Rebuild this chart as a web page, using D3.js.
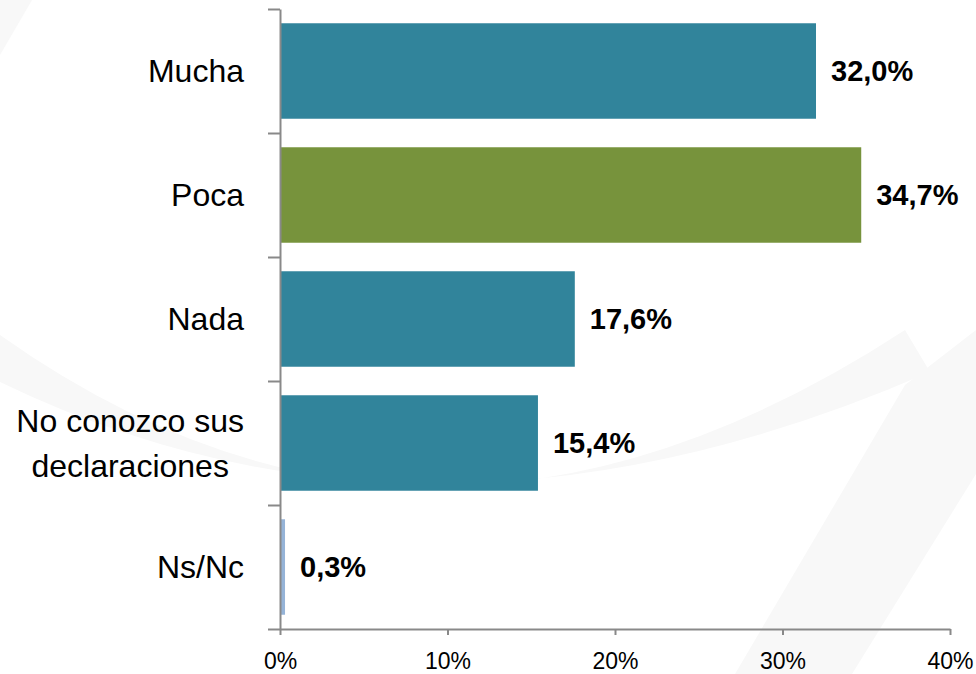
<!DOCTYPE html>
<html>
<head>
<meta charset="utf-8">
<script src="https://cdn.jsdelivr.net/npm/d3@7"></script>
<style>
    body { margin: 0; background: #fff; }
    text { font-family: "Liberation Sans", Arial, sans-serif; }
</style>
</head>
<body>
<div id="chart"></div>
<script>
(function () {
    // data
    var categories = ["Mucha", "Poca", "Nada", "No conozco sus|declaraciones", "Ns/Nc"];
    var values = [32.0, 34.7, 17.6, 15.4, 0.3];
    var valueLabels = ["32,0%", "34,7%", "17,6%", "15,4%", "0,3%"];
    var barColors = ["#31849b", "#77933c", "#31849b", "#31849b", "#95b3d7"];
    var xTicks = [0, 10, 20, 30, 40];

    const width = 976;
    const height = 674;
    const plot_left = 280;
    const plot_right = 950;
    const plot_top = 9;
    const plot_bottom = 629;
    const axis_color = "#898989";

    var svg = d3.select('#chart').append('svg')
        .attr('width', width)
        .attr('height', height);

    // faint watermark swooshes in the background
    var wm = svg.append('g').attr('fill', '#f8f8f8');
    wm.append('path')
        .attr('d', 'M0,335 Q430,640 905,330 L930,372 Q430,590 0,382 Z');
    wm.append('path')
        .attr('d', 'M905,385 L976,330 L976,474 L852,674 L735,674 Z');
    wm.append('path')
        .attr('d', 'M0,0 L32,0 L0,55 Z');

    var x = d3.scaleLinear()
        .domain([0, 40])
        .range([plot_left, plot_right]);

    var y = d3.scaleBand()
        .domain(categories)
        .range([plot_top, plot_bottom])
        .paddingInner(0.23)
        .paddingOuter(0.115);

    // bars
    svg.append('g').selectAll('rect').data(categories)
        .enter().append('rect')
        .attr('x', x(0) + 1)
        .attr('y', function (d) { return y(d); })
        .attr('width', function (d, i) { return Math.max(0, x(values[i]) - x(0) - 1); })
        .attr('height', y.bandwidth())
        .attr('fill', function (d, i) { return barColors[i]; });

    // value labels
    svg.append('g').selectAll('text').data(categories)
        .enter().append('text')
        .attr('x', function (d, i) { return x(values[i]) + 15; })
        .attr('y', function (d) { return y(d) + y.bandwidth() / 2; })
        .attr('dy', '0.36em')
        .attr('font-size', 29)
        .attr('font-weight', 'bold')
        .attr('fill', '#000')
        .text(function (d, i) { return valueLabels[i]; });

    // category labels (multi-line block is centred, block right-aligned)
    var labelG = svg.append('g');
    categories.forEach(function (c) {
        var lines = c.split('|');
        var cy = y(c) + y.bandwidth() / 2;
        var lh = 45;
        var t = labelG.append('text')
            .attr('font-size', 32)
            .attr('fill', '#000');
        var spans = lines.map(function (l, j) {
            return t.append('tspan')
                .attr('y', cy + (j - (lines.length - 1) / 2) * lh)
                .attr('dy', '0.35em')
                .text(l);
        });
        var maxW = d3.max(spans, function (s) { return s.node().getComputedTextLength(); });
        spans.forEach(function (s) {
            s.attr('x', 244 - maxW / 2).attr('text-anchor', 'middle');
        });
    });

    // y axis with boundary ticks
    var yBounds = d3.scaleLinear().domain([0, categories.length]).range([plot_top, plot_bottom]);
    var yAxis = d3.axisLeft(yBounds)
        .tickValues(d3.range(categories.length + 1))
        .tickFormat('')
        .tickSize(12)
        .tickSizeOuter(0);

    var yg = svg.append('g')
        .attr('transform', `translate(${plot_left},0)`)
        .call(yAxis);

    // x axis
    var xAxis = d3.axisBottom(x)
        .tickValues(xTicks)
        .tickFormat(function (d) { return d + '%'; })
        .tickSize(6)
        .tickSizeOuter(0)
        .tickPadding(18);

    var xg = svg.append('g')
        .attr('transform', `translate(0,${plot_bottom})`)
        .call(xAxis);

    [yg, xg].forEach(function (g) {
        g.select('.domain').attr('stroke', axis_color).attr('stroke-width', 2);
        g.selectAll('.tick line').attr('stroke', axis_color).attr('stroke-width', 2);
    });
    xg.selectAll('.tick text')
        .attr('font-size', 23)
        .attr('font-family', '"Liberation Sans", Arial, sans-serif')
        .attr('fill', '#000');
})();
</script>
</body>
</html>
